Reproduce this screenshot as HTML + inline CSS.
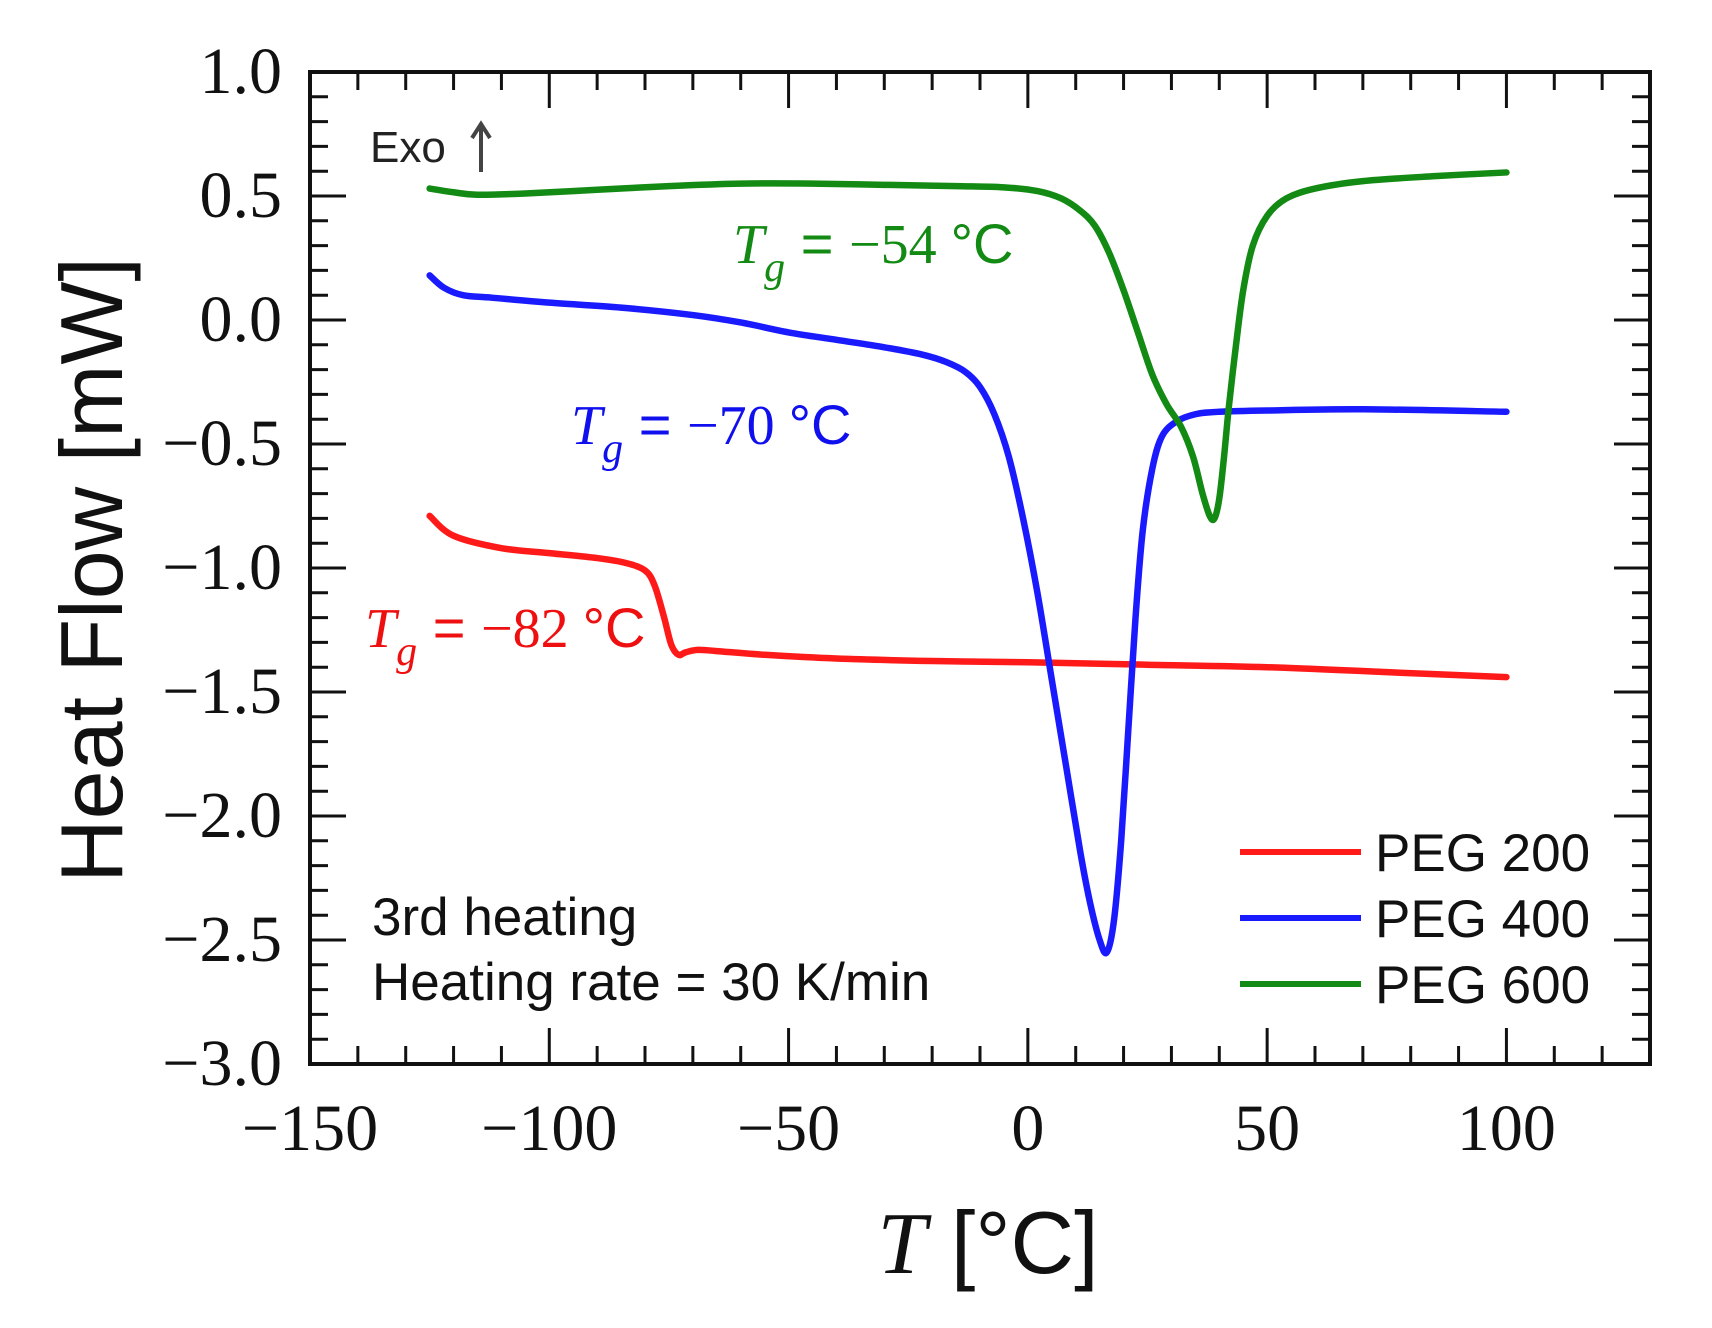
<!DOCTYPE html>
<html><head><meta charset="utf-8"><style>
html,body{margin:0;padding:0;background:#fff;}
svg{display:block;}
.serif{font-family:"Liberation Serif",serif;}
.sans{font-family:"Liberation Sans",sans-serif;}
</style></head><body>
<svg id="chart" width="1712" height="1328" viewBox="0 0 1712 1328" xmlns="http://www.w3.org/2000/svg">
<g id="marks"></g>
<g id="axes"></g>
<text class="sans" x="370" y="162" font-size="44" fill="#222">Exo</text>
<g stroke="#444" stroke-width="4" fill="none"><line x1="481" y1="172" x2="481" y2="126"/><polyline points="472,138 481,124 490,138"/></g>
<text x="733" y="263" fill="#138a13" font-size="56"><tspan class="serif" font-style="italic">T</tspan><tspan class="serif" font-style="italic" font-size="42" dy="18">g</tspan><tspan class="sans" dy="-18"> = </tspan><tspan class="serif">−54 </tspan><tspan class="sans">°C</tspan></text>
<text x="571" y="444" fill="#1010ee" font-size="56"><tspan class="serif" font-style="italic">T</tspan><tspan class="serif" font-style="italic" font-size="42" dy="18">g</tspan><tspan class="sans" dy="-18"> = </tspan><tspan class="serif">−70 </tspan><tspan class="sans">°C</tspan></text>
<text x="365" y="647" fill="#ee1010" font-size="56"><tspan class="serif" font-style="italic">T</tspan><tspan class="serif" font-style="italic" font-size="42" dy="18">g</tspan><tspan class="sans" dy="-18"> = </tspan><tspan class="serif">−82 </tspan><tspan class="sans">°C</tspan></text>
<text class="sans" x="372" y="935" font-size="53" fill="#111">3rd heating</text>
<text class="sans" x="372" y="1000" font-size="53" fill="#111">Heating rate = 30 K/min</text>
<g>
<line x1="1240" x2="1361" y1="852" y2="852" stroke="#ff1a1a" stroke-width="6"/>
<text class="sans" x="1375" y="871" font-size="53" fill="#111">PEG 200</text>
<line x1="1240" x2="1361" y1="918" y2="918" stroke="#1a1aff" stroke-width="6"/>
<text class="sans" x="1375" y="937" font-size="53" fill="#111">PEG 400</text>
<line x1="1240" x2="1361" y1="984" y2="984" stroke="#138a13" stroke-width="6"/>
<text class="sans" x="1375" y="1003" font-size="53" fill="#111">PEG 600</text>
</g>
<text x="988" y="1273" font-size="88" text-anchor="middle" fill="#111"><tspan class="serif" font-style="italic">T</tspan><tspan class="sans"> [°C]</tspan></text>
<text class="sans" font-size="88" text-anchor="middle" fill="#111" transform="translate(122,570) rotate(-90)">Heat Flow [mW]</text>
</svg>
<script>
const xTicks = [-150, -100, -50, 0, 50, 100];
const xTickLabels = ["−150", "−100", "−50", "0", "50", "100"];
const yTicks = [1.0, 0.5, 0.0, -0.5, -1.0, -1.5, -2.0, -2.5, -3.0];
const yTickLabels = ["1.0", "0.5", "0.0", "−0.5", "−1.0", "−1.5", "−2.0", "−2.5", "−3.0"];
const tPeg200 = [-125,-120,-110,-100,-90,-84,-80,-78,-76,-74.5,-73,-71.5,-69,-65,-55,-40,-20,0,25,50,75,100];
const hPeg200 = [-0.79,-0.87,-0.92,-0.94,-0.96,-0.98,-1.01,-1.07,-1.2,-1.31,-1.35,-1.34,-1.33,-1.335,-1.35,-1.365,-1.375,-1.38,-1.39,-1.40,-1.42,-1.44];
const tPeg400 = [-125,-122,-118,-112,-100,-85,-70,-60,-50,-40,-30,-22,-17,-13,-10,-7,-4,-1,2,5,8,11,13,15,16.5,18,19.5,21,22.5,24,26,28,31,35,40,50,70,100];
const hPeg400 = [0.18,0.13,0.10,0.09,0.07,0.05,0.02,-0.01,-0.05,-0.08,-0.11,-0.14,-0.17,-0.21,-0.27,-0.38,-0.55,-0.8,-1.1,-1.45,-1.8,-2.15,-2.35,-2.5,-2.55,-2.42,-2.1,-1.65,-1.2,-0.85,-0.6,-0.47,-0.41,-0.38,-0.37,-0.365,-0.36,-0.37];
const tPeg600 = [-125,-120,-115,-105,-90,-75,-60,-45,-30,-15,-5,2,7,11,14,17,20,23,26,29,32,34.5,36.5,38,39,40,41,42,43.5,45,47,50,54,60,70,85,100];
const hPeg600 = [0.53,0.515,0.505,0.51,0.525,0.54,0.55,0.55,0.545,0.54,0.535,0.52,0.49,0.44,0.38,0.27,0.12,-0.05,-0.22,-0.34,-0.43,-0.55,-0.7,-0.79,-0.8,-0.72,-0.55,-0.35,-0.1,0.12,0.3,0.42,0.49,0.53,0.56,0.58,0.595];

const X0 = 310, X1 = 1650, Y0 = 72, Y1 = 1064;
const xMin = -150, xMax = 130, yMin = -3.0, yMax = 1.0;
function xs(v){ return X0 + (v - xMin) / (xMax - xMin) * (X1 - X0); }
function ys(v){ return Y1 - (v - yMin) / (yMax - yMin) * (Y1 - Y0); }
const NS = "http://www.w3.org/2000/svg";
const axes = document.getElementById('axes');
const marks = document.getElementById('marks');
function mk(tag, attrs, parent){ const e = document.createElementNS(NS, tag); for (const k in attrs) e.setAttribute(k, attrs[k]); parent.appendChild(e); return e; }

function pathFrom(tx, hy){
  const p = tx.map((t,i)=>[xs(t), ys(hy[i])]);
  let d = `M${p[0][0]},${p[0][1]}`;
  for (let i=0;i<p.length-1;i++){
    const p0=p[Math.max(0,i-1)], p1=p[i], p2=p[i+1], p3=p[Math.min(p.length-1,i+2)];
    const c1=[p1[0]+(p2[0]-p0[0])/6, p1[1]+(p2[1]-p0[1])/6];
    const c2=[p2[0]-(p3[0]-p1[0])/6, p2[1]-(p3[1]-p1[1])/6];
    d += ` C${c1[0]},${c1[1]} ${c2[0]},${c2[1]} ${p2[0]},${p2[1]}`;
  }
  return d;
}
const s200 = mk('path', {d: pathFrom(tPeg200, hPeg200), fill:'none', stroke:'#ff1a1a', 'stroke-width':6.5, 'stroke-linejoin':'round', 'stroke-linecap':'round'}, marks);


const s400 = mk('path', {d: pathFrom(tPeg400, hPeg400), fill:'none', stroke:'#1a1aff', 'stroke-width':6.5, 'stroke-linejoin':'round', 'stroke-linecap':'round'}, marks);


const s600 = mk('path', {d: pathFrom(tPeg600, hPeg600), fill:'none', stroke:'#138a13', 'stroke-width':6.5, 'stroke-linejoin':'round', 'stroke-linecap':'round'}, marks);



const frame = mk('rect', {x:X0, y:Y0, width:X1-X0, height:Y1-Y0, fill:'none', stroke:'#111', 'stroke-width':4}, axes);



for (let v = -140; v <= 130; v += 10){
  const major = (v % 50 === 0);
  const L = major ? 36 : 18;
  const x = xs(v);
  const tb = mk('line', {x1:x, x2:x, y1:Y1, y2:Y1-L, stroke:'#111', 'stroke-width':3}, axes);
  
  
  const tt = mk('line', {x1:x, x2:x, y1:Y0, y2:Y0+L, stroke:'#111', 'stroke-width':3}, axes);
  
  
}
xTicks.forEach((v,i)=>{
  const t = mk('text', {x:xs(v), y:1150, 'text-anchor':'middle', 'font-size':66, fill:'#111', class:'serif'}, axes);
  t.textContent = xTickLabels[i];
  
  
});
for (let k = -29; k <= 9; k++){
  const v = k/10;
  const major = (k % 5 === 0);
  const L = major ? 36 : 18;
  const y = ys(v);
  const tl = mk('line', {x1:X0, x2:X0+L, y1:y, y2:y, stroke:'#111', 'stroke-width':3}, axes);
  
  
  const tr = mk('line', {x1:X1, x2:X1-L, y1:y, y2:y, stroke:'#111', 'stroke-width':3}, axes);
  
  
}
yTicks.forEach((v,i)=>{
  const t = mk('text', {x:282, y:ys(v)+21, 'text-anchor':'end', 'font-size':66, fill:'#111', class:'serif'}, axes);
  t.textContent = yTickLabels[i];
  
  
});
</script>
</body></html>
